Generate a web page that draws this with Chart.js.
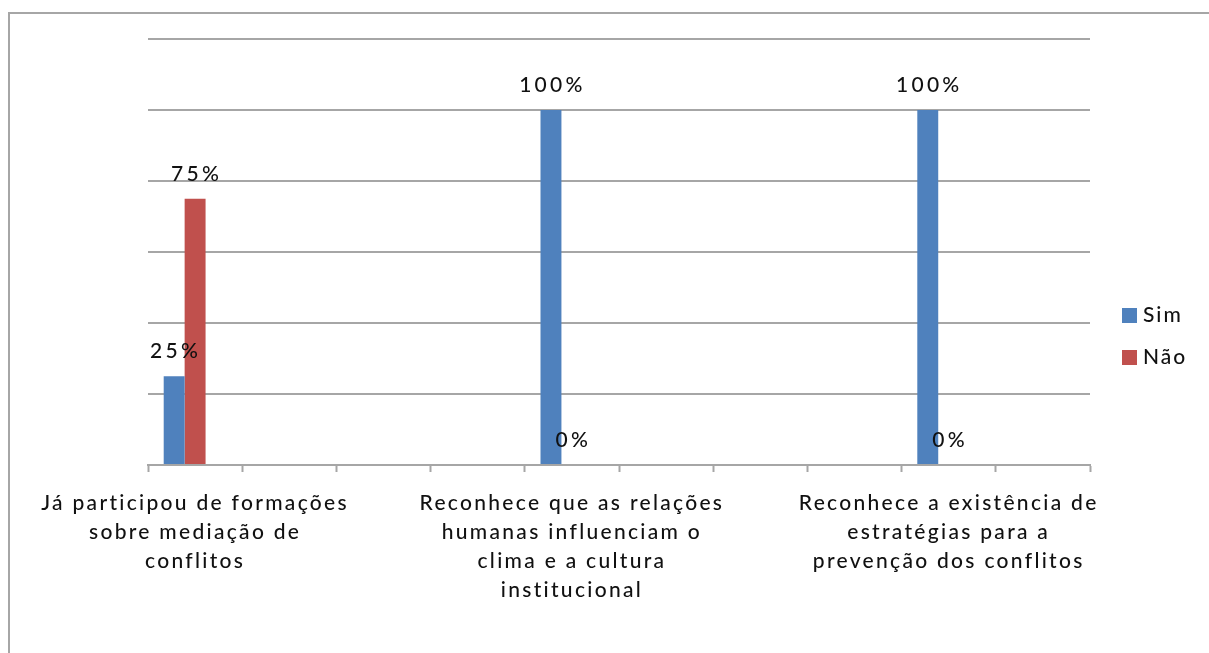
<!DOCTYPE html>
<html lang="pt">
<head>
<meta charset="utf-8">
<title>Mediação de conflitos</title>
<script src="https://cdn.jsdelivr.net/npm/chart.js@4.4.0/dist/chart.umd.min.js"></script>
<style>
  html, body { margin: 0; padding: 0; background: #fff; }
  #frame {
    position: absolute; left: 8px; top: 12px; width: 1230px; height: 670px;
    border-left: 2px solid #a6a6a6; border-top: 2px solid #a6a6a6;
  }
  #chart { position: absolute; left: 0; top: 0; }
</style>
</head>
<body>
<div id="frame"></div>
<canvas id="chart" width="1209" height="653"></canvas>
<script>
// categories (Excel skipped labels, only every 4th one is shown)
const categories = [
    ["Já participou de formações", "sobre mediação de", "conflitos"],
    "", "", "",
    ["Reconhece que as relações", "humanas influenciam o", "clima e a cultura", "institucional"],
    "", "", "",
    ["Reconhece a existência de", "estratégias para a", "prevenção dos conflitos"],
    ""
];
const simValues = [25, null, null, null, 100, null, null, null, 100, null];
const naoValues = [75, null, null, null, 0, null, null, null, 0, null];
// third, unnamed series from the sheet: empty, but it keeps its slot in each group
const blankValues = [null, null, null, null, null, null, null, null, null, null];
const seriesNames = ["Sim", "Não", ""];
const seriesColors = ["#4f81bd", "#c0504d", "rgba(0,0,0,0)"];
const yMin = 0, yMax = 120, yStep = 20;

const FONT = "Lato";
const WEIGHT = 500;
const TEXT_COLOR = "#111";
const GRID_COLOR = "#a6a6a6";

// canvas letter spacing gets reset with the canvas, so set it before layout and draw
const spacingPlugin = {
    id: "spacing",
    beforeUpdate: chart => { chart.ctx.letterSpacing = "2.3px"; },
    beforeDraw: chart => { chart.ctx.letterSpacing = "2.3px"; }
};

// value labels above each bar
const valueLabels = {
    id: "valueLabels",
    afterDatasetsDraw(chart) {
        const ctx = chart.ctx;
        ctx.save();
        ctx.font = `${WEIGHT} 21px ${FONT}`;
        ctx.letterSpacing = "3.3px";
        ctx.fillStyle = TEXT_COLOR;
        ctx.textAlign = "center";
        ctx.textBaseline = "middle";
        chart.data.datasets.forEach((ds, i) => {
            chart.getDatasetMeta(i).data.forEach((bar, j) => {
                const v = ds.data[j];
                if (v === null || v === undefined) return;
                ctx.fillText(v + "%", bar.x + 1.5, bar.y - 25);
            });
        });
        ctx.restore();
    }
};

// legend on the right, drawn like the Excel one
const sideLegend = {
    id: "sideLegend",
    afterDraw(chart) {
        const ctx = chart.ctx;
        const area = chart.chartArea;
        ctx.save();
        ctx.font = `${WEIGHT} 21px ${FONT}`;
        ctx.letterSpacing = "2px";
        ctx.textAlign = "left";
        ctx.textBaseline = "middle";
        let y = area.top + 276;
        chart.data.datasets.forEach(ds => {
            if (!ds.label) return;
            ctx.fillStyle = ds.backgroundColor;
            ctx.fillRect(area.right + 32, y - 7, 15, 15);
            ctx.fillStyle = TEXT_COLOR;
            ctx.fillText(ds.label, area.right + 53, y);
            y += 42;
        });
        ctx.restore();
    }
};

const datasets = [simValues, naoValues, blankValues].map((values, i) => ({
    label: seriesNames[i],
    data: values,
    backgroundColor: seriesColors[i],
    borderWidth: 0,
    categoryPercentage: 3 / 4.5,
    barPercentage: 1
}));

new Chart(document.getElementById("chart"), {
    type: "bar",
    data: { labels: categories, datasets },
    plugins: [spacingPlugin, valueLabels, sideLegend],
    options: {
        responsive: false,
        animation: false,
        layout: { padding: { left: 148, right: 119, top: 39, bottom: 0 } },
        plugins: {
            legend: { display: false },
            tooltip: { enabled: false }
        },
        scales: {
            x: {
                offset: true,
                grid: {
                    offset: true,
                    drawOnChartArea: false,
                    drawTicks: true,
                    tickLength: 7,
                    tickWidth: 2,
                    color: GRID_COLOR
                },
                border: { display: true, color: GRID_COLOR, width: 2 },
                ticks: {
                    autoSkip: false,
                    maxRotation: 0,
                    minRotation: 0,
                    padding: 17,
                    color: TEXT_COLOR,
                    font: { family: FONT, weight: WEIGHT, size: 21, lineHeight: 29 / 21 }
                },
                afterFit: scale => { scale.height = 188; }
            },
            y: {
                min: yMin,
                max: yMax,
                ticks: { display: false, stepSize: yStep },
                grid: { drawTicks: false, color: GRID_COLOR, lineWidth: 2 },
                border: { display: false }
            }
        }
    }
});
</script>
</body>
</html>
